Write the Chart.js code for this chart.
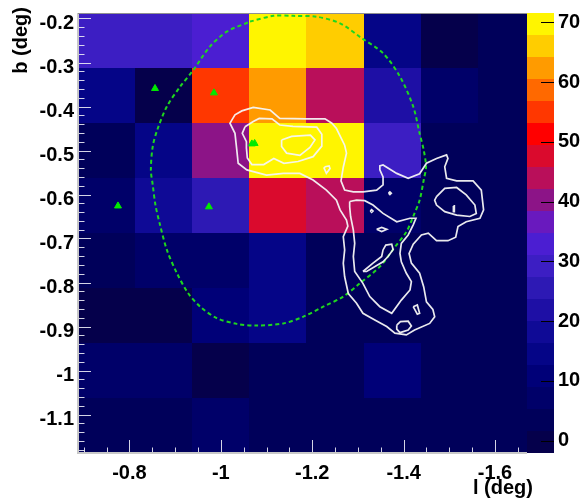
<!DOCTYPE html>
<html>
<head>
<meta charset="utf-8">
<script src="https://cdn.jsdelivr.net/npm/chart.js@4.4.0/dist/chart.umd.min.js"></script>
<style>
html, body { margin: 0; padding: 0; background: #fff; }
</style>
</head>
<body>
<canvas id="myMap" width="582" height="499"></canvas>
<script>
// bin edges (deg)
const lEdges = [-0.6875, -0.8125, -0.9375, -1.0625, -1.1875, -1.3125, -1.4375, -1.5625, -1.6875];
const bEdges = [-0.1875, -0.3125, -0.4375, -0.5625, -0.6875, -0.8125, -0.9375, -1.0625, -1.1875];

// counts, one row per b bin (top to bottom), columns follow lEdges
const counts = [
    [29, 29, 33, 70, 66, 14, 0, 3.5],
    [14, 1, 55, 62, 44, 22, 7, 3.5],
    [3.5, 14, 40, 70, 70, 29, 3, 3],
    [7, 18, 26, 47.5, 44, 8, 3, 3],
    [2, 7, 7, 13, 3, 3, 3, 3],
    [0, 0.5, 11, 13.5, 3, 3, 3, 3],
    [6, 6, 1.5, 5, 3, 10, 3, 3],
    [3, 3, 7, 3, 3, 3, 3, 3]
];

const zMin = -2.06;
const zMax = 71.56;
const palette = [
    'rgb(5,0,75)', 'rgb(0,0,90)', 'rgb(0,0,105)', 'rgb(0,0,120)', 'rgb(5,5,135)',
    'rgb(15,10,150)', 'rgb(30,15,165)', 'rgb(45,25,180)', 'rgb(60,30,195)', 'rgb(75,30,210)',
    'rgb(105,25,190)', 'rgb(140,20,135)', 'rgb(185,15,90)', 'rgb(218,10,45)', 'rgb(255,0,0)',
    'rgb(255,55,0)', 'rgb(255,105,0)', 'rgb(255,155,0)', 'rgb(255,205,0)', 'rgb(255,245,0)'
];

const xTicks = [-0.8, -1, -1.2, -1.4, -1.6];
const xTickLabels = ['-0.8', '-1', '-1.2', '-1.4', '-1.6'];
const yTicks = [-0.2, -0.3, -0.4, -0.5, -0.6, -0.7, -0.8, -0.9, -1, -1.1];
const yTickLabels = ['-0.2', '-0.3', '-0.4', '-0.5', '-0.6', '-0.7', '-0.8', '-0.9', '-1', '-1.1'];
const zTicks = [0, 10, 20, 30, 40, 50, 60, 70];

// white contours [l, b]
const contourOuter = [
    [-1.024,-0.431],[-1.031,-0.419],[-1.046,-0.410],[-1.071,-0.402],[-1.108,-0.408],[-1.129,-0.427],
    [-1.188,-0.428],[-1.228,-0.428],[-1.243,-0.438],[-1.253,-0.450],[-1.271,-0.488],[-1.275,-0.506],
    [-1.268,-0.538],[-1.263,-0.569],[-1.271,-0.590],[-1.290,-0.594],[-1.311,-0.594],[-1.341,-0.590],
    [-1.355,-0.578],[-1.355,-0.560],[-1.348,-0.544],[-1.348,-0.535],[-1.355,-0.533],[-1.385,-0.552],
    [-1.410,-0.563],[-1.435,-0.553],[-1.450,-0.529],[-1.472,-0.518],[-1.494,-0.510],[-1.497,-0.518],
    [-1.490,-0.537],[-1.494,-0.563],[-1.516,-0.569],[-1.552,-0.569],[-1.570,-0.590],[-1.575,-0.635],
    [-1.567,-0.654],[-1.537,-0.662],[-1.519,-0.673],[-1.514,-0.697],[-1.497,-0.705],[-1.472,-0.705],
    [-1.454,-0.688],[-1.439,-0.692],[-1.421,-0.713],[-1.412,-0.734],[-1.417,-0.756],[-1.435,-0.779],
    [-1.444,-0.810],[-1.450,-0.844],[-1.464,-0.861],[-1.468,-0.878],[-1.457,-0.893],[-1.424,-0.908],
    [-1.406,-0.919],[-1.381,-0.915],[-1.363,-0.900],[-1.337,-0.885],[-1.311,-0.870],[-1.297,-0.847],
    [-1.279,-0.825],[-1.271,-0.787],[-1.268,-0.756],[-1.271,-0.726],[-1.268,-0.696],[-1.278,-0.672],
    [-1.275,-0.658],[-1.261,-0.635],[-1.253,-0.613],[-1.231,-0.590],[-1.202,-0.567],[-1.173,-0.552],
    [-1.137,-0.552],[-1.100,-0.556],[-1.057,-0.544],[-1.038,-0.529],[-1.035,-0.499],[-1.031,-0.461],
    [-1.020,-0.438]
];
const contourMid = [
    [-1.053,-0.446],[-1.071,-0.434],[-1.084,-0.427],[-1.112,-0.428],[-1.129,-0.442],[-1.158,-0.445],
    [-1.210,-0.447],[-1.221,-0.463],[-1.221,-0.490],[-1.202,-0.514],[-1.169,-0.525],[-1.138,-0.529],
    [-1.116,-0.518],[-1.094,-0.532],[-1.068,-0.532],[-1.058,-0.517],[-1.056,-0.494],[-1.056,-0.480],
    [-1.047,-0.461]
];
const contourInner = [
    [-1.133,-0.476],[-1.155,-0.468],[-1.196,-0.465],[-1.206,-0.476],[-1.195,-0.493],[-1.173,-0.511],
    [-1.144,-0.506],[-1.133,-0.491]
];
const contourSpot = [[-1.228,-0.537],[-1.237,-0.535],[-1.239,-0.541],[-1.231,-0.552],[-1.226,-0.540]];
const contourSouth = [
    [-1.282,-0.616],[-1.297,-0.613],[-1.315,-0.614],[-1.333,-0.624],[-1.355,-0.643],[-1.385,-0.662],
    [-1.414,-0.654],[-1.427,-0.654],[-1.421,-0.669],[-1.410,-0.692],[-1.395,-0.711],[-1.392,-0.734],
    [-1.395,-0.753],[-1.406,-0.779],[-1.417,-0.798],[-1.414,-0.817],[-1.395,-0.840],[-1.374,-0.870],
    [-1.348,-0.855],[-1.326,-0.832],[-1.311,-0.802],[-1.293,-0.775],[-1.290,-0.741],[-1.293,-0.711],
    [-1.290,-0.681],[-1.284,-0.650],[-1.282,-0.628]
];
const contourEast = [
    [-1.472,-0.605],[-1.490,-0.586],[-1.516,-0.584],[-1.537,-0.601],[-1.556,-0.624],[-1.559,-0.643],
    [-1.545,-0.650],[-1.516,-0.647],[-1.490,-0.639],[-1.472,-0.624],[-1.468,-0.613]
];
const contourEastCore = [[-1.509,-0.626],[-1.511,-0.626],[-1.511,-0.639],[-1.509,-0.639]];
const contourStreak = [
    [-1.311,-0.775],[-1.333,-0.756],[-1.352,-0.741],[-1.355,-0.726],[-1.361,-0.715],[-1.374,-0.713],
    [-1.377,-0.725],[-1.366,-0.741],[-1.355,-0.753],[-1.319,-0.775]
];
const contourEllipse = [[-1.341,-0.679],[-1.352,-0.675],[-1.363,-0.679],[-1.352,-0.684]];
const contourDotA = [[-1.367,-0.597],[-1.370,-0.594],[-1.373,-0.597],[-1.370,-0.600]];
const contourDotB = [[-1.327,-0.6375],[-1.330,-0.6345],[-1.333,-0.6375],[-1.330,-0.6405]];
const contourTri = [[-1.421,-0.855],[-1.430,-0.851],[-1.435,-0.870],[-1.430,-0.872]];
const contourBottom = [
    [-1.385,-0.897],[-1.393,-0.889],[-1.410,-0.888],[-1.417,-0.899],[-1.410,-0.908],[-1.392,-0.914],
    [-1.385,-0.906]
];

// green dashed region [l, b]
const regionOutline = [
    [-1.064,-0.207],[-1.115,-0.194],[-1.158,-0.194],[-1.210,-0.196],[-1.261,-0.211],[-1.306,-0.243],
    [-1.355,-0.279],[-1.392,-0.332],[-1.421,-0.400],[-1.435,-0.461],[-1.444,-0.499],[-1.449,-0.537],
    [-1.444,-0.567],[-1.435,-0.613],[-1.421,-0.650],[-1.406,-0.685],[-1.381,-0.719],[-1.348,-0.764],
    [-1.304,-0.802],[-1.268,-0.832],[-1.224,-0.855],[-1.180,-0.878],[-1.137,-0.893],[-1.078,-0.898],
    [-1.035,-0.894],[-0.991,-0.881],[-0.955,-0.855],[-0.929,-0.825],[-0.904,-0.779],[-0.882,-0.726],
    [-0.867,-0.669],[-0.857,-0.624],[-0.851,-0.578],[-0.847,-0.544],[-0.851,-0.491],[-0.861,-0.453],
    [-0.882,-0.400],[-0.911,-0.355],[-0.940,-0.317],[-0.976,-0.264],[-1.013,-0.230]
];

// green triangles [l, b]
const sourcesL = [-0.856, -0.985, -1.068, -1.074, -0.775, -0.974];
const sourcesB = [-0.359, -0.369, -0.485, -0.484, -0.626, -0.628];

function toXY(list, close) {
    const pts = list.map(p => ({x: p[0], y: p[1]}));
    if (close) pts.push({x: list[0][0], y: list[0][1]});
    return pts;
}

function contourSet(name, list) {
    return {
        label: name,
        data: toXY(list, true),
        showLine: true,
        borderColor: 'rgba(245,245,245,0.95)',
        borderWidth: 1.7,
        pointRadius: 0,
        tension: 0,
        fill: false
    };
}

function binColour(v) {
    let k = Math.floor((v - zMin) / (zMax - zMin) * palette.length);
    if (k < 0) k = 0;
    if (k > palette.length - 1) k = palette.length - 1;
    return palette[k];
}

// keep the frame where the picture has it: no automatic label padding
function noPadding(s) {
    s.paddingTop = 0;
    s.paddingBottom = 0;
    s.paddingLeft = 0;
    s.paddingRight = 0;
}

const FONT = '"Liberation Sans", Arial, sans-serif';

const heatmapPlugin = {
    id: 'heatmap',
    beforeDatasetsDraw(chart) {
        const ctx = chart.ctx;
        const area = chart.chartArea;
        const xs = chart.scales.x, ys = chart.scales.y, zs = chart.scales.z;
        ctx.save();
        ctx.beginPath();
        ctx.rect(area.left, area.top, area.right - area.left, area.bottom - area.top);
        ctx.clip();
        counts.forEach((row, r) => {
            row.forEach((v, c) => {
                const x0 = Math.round(xs.getPixelForValue(lEdges[c]));
                const x1 = Math.round(xs.getPixelForValue(lEdges[c + 1]));
                const y0 = Math.round(ys.getPixelForValue(bEdges[r]));
                const y1 = Math.round(ys.getPixelForValue(bEdges[r + 1]));
                ctx.fillStyle = binColour(v);
                ctx.fillRect(Math.min(x0, x1), Math.min(y0, y1), Math.abs(x1 - x0), Math.abs(y1 - y0));
            });
        });
        ctx.restore();

        // colour bar
        const step = (zMax - zMin) / palette.length;
        palette.forEach((col, k) => {
            const yb = Math.round(zs.getPixelForValue(zMin + k * step));
            const yt = Math.round(zs.getPixelForValue(zMin + (k + 1) * step));
            ctx.fillStyle = col;
            ctx.fillRect(area.right, yt, 27, yb - yt);
        });
    },
    afterDatasetsDraw(chart) {
        const ctx = chart.ctx;
        const area = chart.chartArea;
        const xs = chart.scales.x, ys = chart.scales.y, zs = chart.scales.z;
        ctx.save();
        ctx.strokeStyle = 'rgba(235,235,245,0.9)';
        ctx.lineWidth = 1;
        // y ticks (inside)
        for (let i = 20; i <= 118; i += 2) {
            const py = Math.round(ys.getPixelForValue(-i / 100)) + 0.5;
            const len = (i % 10 === 0) ? 13 : 6.5;
            ctx.beginPath();
            ctx.moveTo(area.left, py);
            ctx.lineTo(area.left + len, py);
            ctx.stroke();
        }
        // x ticks (inside)
        for (let i = 70; i <= 165; i += 5) {
            const px = Math.round(xs.getPixelForValue(-i / 100)) + 0.5;
            const len = (i % 20 === 0) ? 13 : 5.5;
            ctx.beginPath();
            ctx.moveTo(px, area.bottom);
            ctx.lineTo(px, area.bottom - len);
            ctx.stroke();
        }
        // frame
        ctx.strokeStyle = '#c8c8c8';
        ctx.lineWidth = 2;
        ctx.beginPath();
        ctx.moveTo(area.left, area.top);
        ctx.lineTo(area.left, area.bottom);
        ctx.lineTo(area.right, area.bottom);
        ctx.stroke();
        ctx.strokeStyle = '#909090';
        ctx.lineWidth = 1;
        ctx.beginPath();
        ctx.moveTo(area.left, area.top + 0.5);
        ctx.lineTo(area.right, area.top + 0.5);
        ctx.stroke();
        // colour bar ticks
        ctx.strokeStyle = '#000';
        zTicks.forEach(v => {
            const py = Math.round(zs.getPixelForValue(v)) + 0.5;
            ctx.beginPath();
            ctx.moveTo(area.right + 14, py);
            ctx.lineTo(area.right + 27, py);
            ctx.stroke();
        });
        ctx.restore();
    },
    afterDraw(chart) {
        const ctx = chart.ctx;
        ctx.save();
        ctx.fillStyle = '#000';
        ctx.font = 'bold 20px ' + FONT;
        ctx.textBaseline = 'alphabetic';
        ctx.textAlign = 'right';
        ctx.fillText('l (deg)', 533, 494);
        ctx.translate(27, 7);
        ctx.rotate(-Math.PI / 2);
        ctx.textAlign = 'right';
        ctx.fillText('b (deg)', 0, 0);
        ctx.restore();
    }
};

const datasets = [
    contourSet('outer', contourOuter),
    contourSet('mid', contourMid),
    contourSet('inner', contourInner),
    contourSet('spot', contourSpot),
    contourSet('south', contourSouth),
    contourSet('east', contourEast),
    contourSet('eastCore', contourEastCore),
    contourSet('streak', contourStreak),
    contourSet('ellipse', contourEllipse),
    contourSet('dotA', contourDotA),
    contourSet('dotB', contourDotB),
    contourSet('tri', contourTri),
    contourSet('bottom', contourBottom),
    {
        label: 'region',
        data: toXY(regionOutline, true),
        showLine: true,
        borderColor: 'rgb(30,215,30)',
        borderWidth: 2,
        borderDash: [4, 3],
        pointRadius: 0,
        tension: 0.3,
        fill: false
    },
    {
        label: 'sources',
        data: sourcesL.map((l, i) => ({x: l, y: sourcesB[i]})),
        showLine: false,
        pointStyle: 'triangle',
        pointRadius: 4,
        backgroundColor: 'rgb(0,235,0)',
        borderColor: 'rgb(0,235,0)',
        borderWidth: 1
    }
];

const tickFont = {family: FONT, size: 20, weight: 'bold'};

new Chart(document.getElementById('myMap'), {
    type: 'scatter',
    data: {datasets: datasets},
    plugins: [heatmapPlugin],
    options: {
        responsive: false,
        animation: false,
        devicePixelRatio: 1,
        layout: {padding: {left: 0, right: 0, top: 13, bottom: 0}},
        plugins: {legend: {display: false}, tooltip: {enabled: false}},
        scales: {
            x: {
                type: 'linear',
                position: 'bottom',
                reverse: true,
                min: -1.67,
                max: -0.6875,
                afterFit: s => { s.height = 46; noPadding(s); },
                afterBuildTicks: s => { s.ticks = xTicks.map(v => ({value: v})); },
                grid: {display: false, drawTicks: false},
                border: {display: false},
                ticks: {
                    font: tickFont, color: '#000', padding: 8, maxRotation: 0, autoSkip: false,
                    callback: (v, i) => xTickLabels[i]
                }
            },
            y: {
                type: 'linear',
                position: 'left',
                min: -1.1875,
                max: -0.1875,
                afterFit: s => { s.width = 78; noPadding(s); },
                afterBuildTicks: s => { s.ticks = yTicks.map(v => ({value: v})); },
                grid: {display: false, drawTicks: false},
                border: {display: false},
                ticks: {
                    font: tickFont, color: '#000', padding: 4, labelOffset: 4.5, autoSkip: false,
                    callback: (v, i) => yTickLabels[i]
                }
            },
            z: {
                type: 'linear',
                axis: 'y',
                position: 'right',
                min: zMin,
                max: zMax,
                afterFit: s => { s.width = 55; noPadding(s); },
                afterBuildTicks: s => { s.ticks = zTicks.map(v => ({value: v})); },
                grid: {display: false, drawTicks: false},
                border: {display: false},
                ticks: {
                    font: tickFont, color: '#000', padding: 31, autoSkip: false,
                    callback: (v) => String(v)
                }
            }
        }
    }
});
</script>
</body>
</html>
